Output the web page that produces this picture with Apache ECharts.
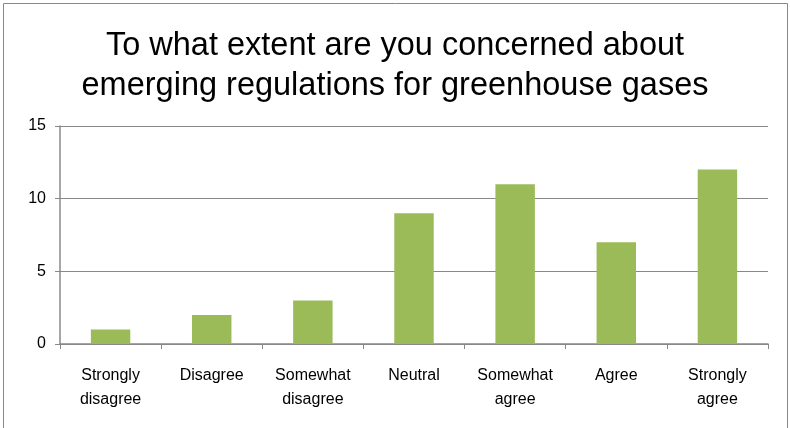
<!DOCTYPE html>
<html><head><meta charset="utf-8">
<script src="https://cdn.jsdelivr.net/npm/echarts@6/dist/echarts.min.js"></script>
<style>html,body{margin:0;padding:0;background:#fff}#c{width:790px;height:428px}</style>
</head><body><div id="c"></div>
<script>
var categories = ['Strongly\ndisagree','Disagree','Somewhat\ndisagree','Neutral','Somewhat\nagree','Agree','Strongly\nagree'];
var values = [1,2,3,9,11,7,12];
var titleText = 'To what extent are you concerned about\nemerging regulations for greenhouse gases';
var font = '"Liberation Sans", sans-serif';
var chart = echarts.init(document.getElementById('c'));
chart.setOption({
  animation:false,
  title:{text:titleText,left:'center',top:21,textStyle:{fontFamily:font,fontWeight:'normal',fontSize:32.5,lineHeight:40,color:'#000'}},
  graphic:[{type:'rect',shape:{x:3.5,y:3.5,width:784,height:440},style:{fill:'none',stroke:'#888',lineWidth:1},silent:true}],
  grid:{left:60,right:22,top:126,bottom:84},
  xAxis:{type:'category',data:categories,
    axisLine:{lineStyle:{color:'#888',width:1.5}},
    axisTick:{show:true,length:5,lineStyle:{color:'#888'}},
    axisLabel:{fontFamily:font,fontSize:16,color:'#000',lineHeight:24,margin:20}},
  yAxis:{type:'value',min:0,max:15,interval:5,
    axisLine:{show:true,lineStyle:{color:'#888',width:1.5}},
    axisTick:{show:true,length:5,inside:false,lineStyle:{color:'#888'}},
    splitLine:{lineStyle:{color:'#888'}},
    axisLabel:{fontFamily:font,fontSize:16,color:'#000',margin:14}},
  series:[{type:'bar',data:values,barWidth:'39%',itemStyle:{color:'#9BBB59'}}]
});
</script></body></html>
